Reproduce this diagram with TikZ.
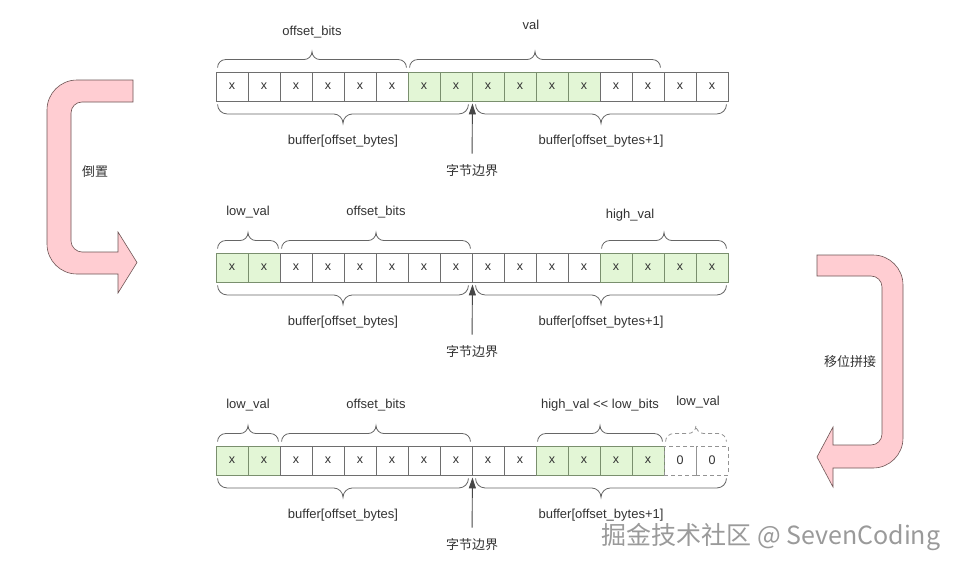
\documentclass[tikz,border=0pt]{standalone}
\usepackage{fontspec}
\setmainfont{Liberation Sans}
\newfontfamily\cjk{Noto Sans CJK SC}
\usetikzlibrary{decorations,arrows.meta}
\pgfdeclaredecoration{cbrace}{brace}
{%
  \state{brace}[width=+\pgfdecoratedremainingdistance,next state=final]
  {%
    \pgfpathmoveto{\pgfpointorigin}%
    \pgfpathcurveto{\pgfqpoint{0pt}{.276\pgfdecorationsegmentamplitude}}%
      {\pgfqpoint{.224\pgfdecorationsegmentamplitude}{.5\pgfdecorationsegmentamplitude}}%
      {\pgfqpoint{.5\pgfdecorationsegmentamplitude}{.5\pgfdecorationsegmentamplitude}}%
    {%
      \pgftransformxshift{+\pgfdecorationsegmentaspect\pgfdecoratedremainingdistance}%
      \pgfpathlineto{\pgfqpoint{-.5\pgfdecorationsegmentamplitude}{.5\pgfdecorationsegmentamplitude}}%
      \pgfpathcurveto{\pgfqpoint{-.224\pgfdecorationsegmentamplitude}{.5\pgfdecorationsegmentamplitude}}%
        {\pgfqpoint{0pt}{.724\pgfdecorationsegmentamplitude}}%
        {\pgfqpoint{0pt}{\pgfdecorationsegmentamplitude}}%
      \pgfpathcurveto{\pgfqpoint{0pt}{.724\pgfdecorationsegmentamplitude}}%
        {\pgfqpoint{.224\pgfdecorationsegmentamplitude}{.5\pgfdecorationsegmentamplitude}}%
        {\pgfqpoint{.5\pgfdecorationsegmentamplitude}{.5\pgfdecorationsegmentamplitude}}%
    }%
    {%
      \pgftransformxshift{+\pgfdecoratedremainingdistance}%
      \pgfpathlineto{\pgfqpoint{-.5\pgfdecorationsegmentamplitude}{.5\pgfdecorationsegmentamplitude}}%
      \pgfpathcurveto{\pgfqpoint{-.224\pgfdecorationsegmentamplitude}{.5\pgfdecorationsegmentamplitude}}%
        {\pgfqpoint{0pt}{.276\pgfdecorationsegmentamplitude}}%
        {\pgfqpoint{0pt}{0pt}}%
    }%
  }%
  \state{final}{}%
}
\definecolor{txt}{HTML}{333333}
\definecolor{fillW}{HTML}{FFFFFF}
\definecolor{lineW}{HTML}{6E6E6E}
\definecolor{fillG}{HTML}{E3F6D6}
\definecolor{lineG}{HTML}{7A8F6E}
\definecolor{pinkfill}{HTML}{FFCDD2}
\definecolor{pinkline}{HTML}{6E5555}
\definecolor{brcline}{HTML}{666666}
\definecolor{wmark}{HTML}{9A9A9A}
\tikzset{
  cell/.style={draw=lineW, line width=0.9pt, minimum width=32pt, minimum height=29pt,
    inner sep=0pt, text=txt, font=\fontsize{12.5}{14}\selectfont},
  dcell/.style={cell, draw=gray!85, dash pattern=on 4pt off 3pt},
  lbl/.style={text=txt, font=\fontsize{13}{15}\selectfont, inner sep=1pt},
  clbl/.style={text=txt, font=\cjk\fontsize{13}{15}\selectfont, inner sep=2pt},
  topbrace/.style={draw=brcline, line width=0.8pt, decorate,
    decoration={cbrace, amplitude=16pt, raise=4pt}},
  botbrace/.style={draw=brcline, line width=0.8pt, decorate,
    decoration={cbrace, amplitude=19pt, raise=3pt}},
  bound/.style={draw=txt!90, line width=0.9pt, -{Triangle[width=7pt,length=11pt]}, shorten <=9pt},
  bigarrow/.style={fill=pinkfill, draw=pinkline, line width=0.6pt},
}
\begin{document}
\begin{tikzpicture}[x=1pt,y=-1pt]
\useasboundingbox (0,0) rectangle (959,570);
\fill[white] (0,0) rectangle (959,570);

% ---------- big arrows ----------
\draw[bigarrow] (133,80) -- (77,80) .. controls (60.4,80) and (47,93.4) .. (47,110)
  -- (47,244) .. controls (47,260.6) and (60.4,274) .. (77,274) -- (118,274) -- (118,293)
  -- (137,262.5) -- (118,232) -- (118,252) -- (82,252)
  .. controls (76.5,252) and (71,247.1) .. (71,241) -- (71,113)
  .. controls (71,106.9) and (75.9,102) .. (82,102) -- (133,102) -- cycle;
\node[clbl] (flip) at (95,172) {倒置};

\draw[bigarrow] (817,255) -- (873,255) .. controls (889.6,255) and (903,268.4) .. (903,285)
  -- (903,438) .. controls (903,454.6) and (889.6,468) .. (873,468) -- (833,468) -- (833,487)
  -- (817,457) -- (833,427) -- (833,445) -- (871,445)
  .. controls (877.1,445) and (882,440.1) .. (882,434) -- (882,287)
  .. controls (882,280.9) and (877.1,276) .. (871,276) -- (817,276) -- cycle;
\node[clbl] (shift) at (850,362) {移位拼接};

% ---------- row 1 ----------
\foreach \f [count=\i from 0] in {W,W,W,W,W,W,G,G,G,G,G,G,W,W,W,W}
  \node[cell, fill=fill\f, draw=line\f] (r1c\i) at ({232+32*\i},86.5) {x};
\node[lbl] (l1a) at (312,32) {offset\_bits};
\node[lbl] (l1b) at (531,25) {val};
\draw[topbrace] ([xshift=2pt]r1c0.north west) -- ([xshift=-2pt]r1c5.north east);
\draw[topbrace] ([xshift=2pt]r1c6.north west) -- ([xshift=-4pt]r1c13.north east);
\draw[botbrace] ([xshift=-4pt]r1c7.south east) -- ([xshift=2pt]r1c0.south west);
\draw[botbrace] ([xshift=-2pt]r1c15.south east) -- ([xshift=4pt]r1c8.south west);
\node[lbl] (l1c) at (343,141) {buffer[offset\_bytes]};
\node[lbl] (l1d) at (601,141) {buffer[offset\_bytes+1]};
\node[clbl] (b1) at (472,171) {字节边界};
\draw[bound] (b1.north) -- ([yshift=-2pt]r1c7.south east);

% ---------- row 2 ----------
\foreach \f [count=\i from 0] in {G,G,W,W,W,W,W,W,W,W,W,W,G,G,G,G}
  \node[cell, fill=fill\f, draw=line\f] (r2c\i) at ({232+32*\i},267.5) {x};
\node[lbl] (l2a) at (248,212) {low\_val};
\node[lbl] (l2b) at (376,212) {offset\_bits};
\node[lbl] (l2c) at (630,215) {high\_val};
\draw[topbrace] ([xshift=2pt]r2c0.north west) -- ([xshift=-2pt]r2c1.north east);
\draw[topbrace] ([xshift=2pt]r2c2.north west) -- ([xshift=-2pt]r2c7.north east);
\draw[topbrace] ([xshift=2pt]r2c12.north west) -- ([xshift=-2pt]r2c15.north east);
\draw[botbrace] ([xshift=-4pt]r2c7.south east) -- ([xshift=2pt]r2c0.south west);
\draw[botbrace] ([xshift=-2pt]r2c15.south east) -- ([xshift=4pt]r2c8.south west);
\node[lbl] (l2d) at (343,322) {buffer[offset\_bytes]};
\node[lbl] (l2e) at (601,322) {buffer[offset\_bytes+1]};
\node[clbl] (b2) at (472,352) {字节边界};
\draw[bound] (b2.north) -- ([yshift=-2pt]r2c7.south east);

% ---------- row 3 ----------
\foreach \f [count=\i from 0] in {G,G,W,W,W,W,W,W,W,W,G,G,G,G}
  \node[cell, fill=fill\f, draw=line\f] (r3c\i) at ({232+32*\i},460.5) {x};
\node[dcell] (r3c14) at (680,460.5) {0};
\node[dcell] (r3c15) at (712,460.5) {0};
\node[lbl] (l3a) at (248,405) {low\_val};
\node[lbl] (l3b) at (376,405) {offset\_bits};
\node[lbl] (l3c) at (600,405) {high\_val <\kern0pt< low\_bits};
\node[lbl] (l3d) at (698,402) {low\_val};
\draw[topbrace] ([xshift=2pt]r3c0.north west) -- ([xshift=-2pt]r3c1.north east);
\draw[topbrace] ([xshift=2pt]r3c2.north west) -- ([xshift=-2pt]r3c7.north east);
\draw[topbrace] ([xshift=2pt]r3c10.north west) -- ([xshift=-2pt]r3c13.north east);
\draw[topbrace, draw=gray!85, dash pattern=on 4pt off 3pt] ([xshift=2pt]r3c14.north west) -- ([xshift=-2pt]r3c15.north east);
\draw[botbrace] ([xshift=-4pt]r3c7.south east) -- ([xshift=2pt]r3c0.south west);
\draw[botbrace] ([xshift=-2pt]r3c15.south east) -- ([xshift=4pt]r3c8.south west);
\node[lbl] (l3e) at (343,515) {buffer[offset\_bytes]};
\node[lbl] (l3f) at (601,515) {buffer[offset\_bytes+1]};
\node[clbl] (b3) at (472,545) {字节边界};
\draw[bound] (b3.north) -- ([yshift=-2pt]r3c7.south east);

% ---------- watermark ----------
\node[font=\cjk\fontsize{25}{28}\selectfont, text=wmark] (wm) at (771,537) {掘金技术社区 @ SevenCoding};
\end{tikzpicture}
\end{document}
